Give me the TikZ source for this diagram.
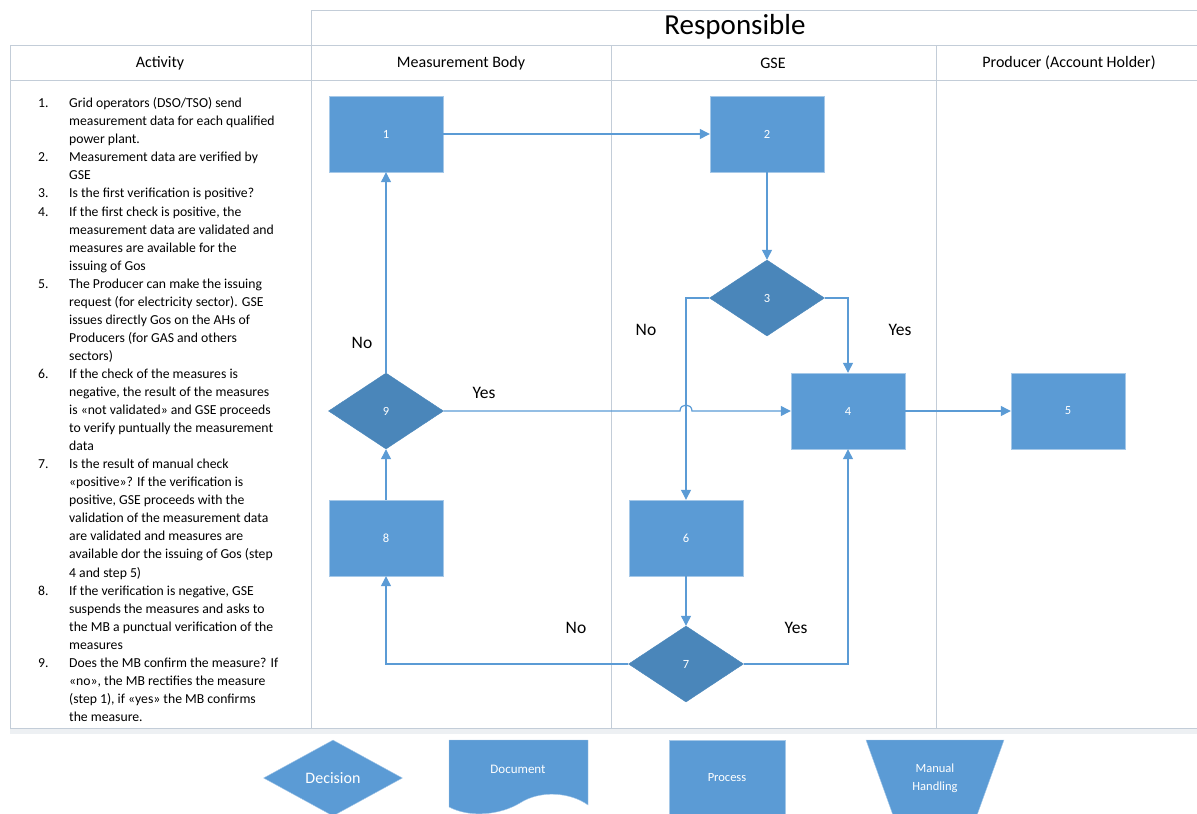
\documentclass[tikz,border=0pt]{standalone}
\usepackage{fontspec}
\setmainfont{Carlito}
\usetikzlibrary{shapes.geometric, arrows.meta}

\definecolor{boxblue}{HTML}{5B9BD5}
\definecolor{decblue}{HTML}{4A86BA}
\definecolor{lanegray}{HTML}{C3CDD8}

\newcommand{\stepnum}[1]{\makebox[31pt][l]{#1}}
\newcommand{\stepcont}{\hspace*{31pt}}

\tikzset{
  process/.style={rectangle, fill=boxblue, draw=boxblue!55!white, minimum width=114pt, minimum height=76pt, inner sep=0pt, text=white, font=\fontsize{12.5}{14}\selectfont},
  decision/.style={diamond, fill=decblue, draw=decblue, minimum width=115pt, minimum height=76pt, inner sep=0pt, text=white, font=\fontsize{12.5}{14}\selectfont},
  flow/.style={draw=boxblue, line width=1.2pt, -{Triangle[length=10pt,width=10pt]}},
  answer/.style={font=\fontsize{17.5}{20}\selectfont},
  lane/.style={draw=lanegray, line width=0.9pt},
  lanehead/.style={font=\fontsize{16}{18}\selectfont},
}

\begin{document}
\begin{tikzpicture}[x=1pt, y=-1pt]
    \useasboundingbox (0,0) rectangle (1197,814);

    % table
    \fill[lanegray!30] (10,728) rectangle (1197,734);
    \draw[lane] (311,45) -- (311,10) -- (1197,10);
    \draw[lane] (10,45) -- (1197,45);
    \draw[lane] (10,80) -- (1197,80);
    \draw[lane] (10,728) -- (1197,728);
    \foreach \x in {10, 311, 611, 936}
        \draw[lane] (\x,45) -- (\x,728);
    \node[font=\fontsize{29}{32}\selectfont] (resp) at (735,27) {Responsible};
    \node[lanehead] (hact) at (160,63) {Activity};
    \node[lanehead] (hmb) at (461,63) {Measurement Body};
    \node[lanehead] (hgse) at (773,63) {GSE};
    \node[lanehead] (hprod) at (1069,63) {Producer (Account Holder)};

    % steps
    \node[anchor=north west, align=left, inner sep=0pt, font=\fontsize{13.7}{18.05}\selectfont] (steps) at (38,97.5) {%
        \stepnum{1.}Grid operators (DSO/TSO) send\\
        \stepcont measurement data for each qualified\\
        \stepcont power plant.\\
        \stepnum{2.}Measurement data are verified by\\
        \stepcont GSE\\
        \stepnum{3.}Is the first verification is positive?\\
        \stepnum{4.}If the first check is positive, the\\
        \stepcont measurement data are validated and\\
        \stepcont measures are available for the\\
        \stepcont issuing of Gos\\
        \stepnum{5.}The Producer can make the issuing\\
        \stepcont request (for electricity sector). GSE\\
        \stepcont issues directly Gos on the AHs of\\
        \stepcont Producers (for GAS and others\\
        \stepcont sectors)\\
        \stepnum{6.}If the check of the measures is\\
        \stepcont negative, the result of the measures\\
        \stepcont is «not validated» and GSE proceeds\\
        \stepcont to verify puntually the measurement\\
        \stepcont data\\
        \stepnum{7.}Is the result of manual check\\
        \stepcont «positive»? If the verification is\\
        \stepcont positive, GSE proceeds with the\\
        \stepcont validation of the measurement data\\
        \stepcont are validated and measures are\\
        \stepcont available dor the issuing of Gos (step\\
        \stepcont 4 and step 5)\\
        \stepnum{8.}If the verification is negative, GSE\\
        \stepcont suspends the measures and asks to\\
        \stepcont the MB a punctual verification of the\\
        \stepcont measures\\
        \stepnum{9.}Does the MB confirm the measure? If\\
        \stepcont «no», the MB rectifies the measure\\
        \stepcont (step 1), if «yes» the MB confirms\\
        \stepcont the measure.};

    % flow
    \node[process] (n1) at (386,134) {1};
    \node[process] (n2) at (767,134) {2};
    \node[decision] (n3) at (767,298) {3};
    \node[process] (n4) at (848,411) {4};
    \node[process] (n5) at (1068,411) {5};
    \node[process] (n6) at (686,538) {6};
    \node[decision] (n7) at (686,664) {7};
    \node[process] (n8) at (386,538) {8};
    \node[decision] (n9) at (386,411) {9};

    \draw[flow] (n1.east) -- (n2.west);
    \draw[flow] (n2) -- (n3);
    \draw[flow] (n3.east) -| (n4.north);
    \draw[flow] (n3.west) -| (n6.north);
    \draw[flow] (n6) -- (n7);
    \draw[flow] (n7.east) -| (n4.south);
    \draw[flow] (n7.west) -| (n8.south);
    \draw[flow] (n8) -- (n9);
    \draw[flow] (n9) -- (n1);
    \draw[flow] (n4) -- (n5);
    \coordinate (hop) at (n9.east -| n6.north);
    \draw[flow] (n9.east) -- ([xshift=-6pt]hop) .. controls ([xshift=-6pt,yshift=8pt]hop) and ([xshift=6pt,yshift=8pt]hop) .. ([xshift=6pt]hop) -- (n4.west);

    \node[answer] (no9) at (362,343) {No};
    \node[answer] (yes9) at (484,393) {Yes};
    \node[answer] (no3) at (646,330) {No};
    \node[answer] (yes3) at (900,330) {Yes};
    \node[answer] (no7) at (576,628) {No};
    \node[answer] (yes7) at (796,628) {Yes};

    % legend
    \node[decision, fill=boxblue, draw=boxblue!55!white, minimum width=139pt, font=\fontsize{16}{18}\selectfont] (ldec) at (333,778) {Decision};
    \filldraw[fill=boxblue, draw=boxblue!55!white] (449,740) -- (588,740) -- (588,805)
        .. controls (570,792) and (540,790) .. (520,803)
        .. controls (500,815) and (470,818) .. (449,807) -- cycle;
    \node[text=white, font=\fontsize{13}{15}\selectfont] (ldoc) at (518,769) {Document};
    \node[process, minimum width=116pt, font=\fontsize{12.5}{15}\selectfont] (lproc) at (727,778) {Process};
    \filldraw[fill=boxblue, draw=boxblue!55!white] (866,740) -- (1004,740) -- (976,818) -- (894,818) -- cycle;
    \node[text=white, align=center, font=\fontsize{12.5}{18}\selectfont] (lman) at (935,778) {Manual\\Handling};
\end{tikzpicture}
\end{document}
